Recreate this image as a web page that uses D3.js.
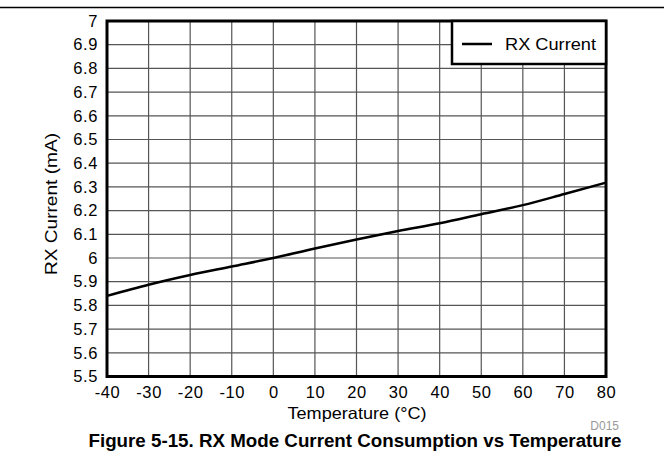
<!DOCTYPE html>
<html lang="en">
<head>
	<title>RX Mode Current Consumption vs Temperature</title>
	<script src="https://d3js.org/d3.v7.min.js" charset="utf-8"></script>
	<style>
		body{ margin:0; background:#fff; }
		text{ font-family: "Liberation Sans", Arial, sans-serif; }
	</style>
</head>
<body>
	<script>
		// Data
		var temps = [-40, -30, -20, -10, 0, 10, 20, 30, 40, 50, 60, 70, 80];
		var rxCurrent = [5.84, 5.887, 5.928, 5.964, 6.0, 6.04, 6.078, 6.114, 6.147, 6.185, 6.223, 6.27, 6.318];
		var xTicks = [-40, -30, -20, -10, 0, 10, 20, 30, 40, 50, 60, 70, 80];
		var yTicks = [5.5, 5.6, 5.7, 5.8, 5.9, 6, 6.1, 6.2, 6.3, 6.4, 6.5, 6.6, 6.7, 6.8, 6.9, 7];
		var seriesName = "RX Current";

		var w = 664, h = 475;
		var padL = 107, padR = 606, padT = 21, padB = 376.5;

		var svg = d3.select("body").append("svg")
			.attr("width", w)
			.attr("height", h);

		// rule at the top of the page
		svg.append("line")
			.attr("x1", 0).attr("x2", w)
			.attr("y1", 7.5).attr("y2", 7.5)
			.attr("stroke", "#000").attr("stroke-width", 1.5);

		var xScale = d3.scaleLinear().domain([-40, 80]).range([padL, padR]);
		var yScale = d3.scaleLinear().domain([5.5, 7]).range([padB, padT]);

		// grid
		svg.append("g").selectAll("line")
			.data(xTicks.slice(1, -1))
			.enter().append("line")
			.attr("x1", function(d){ return xScale(d); })
			.attr("x2", function(d){ return xScale(d); })
			.attr("y1", padT).attr("y2", padB)
			.attr("stroke", "#555").attr("stroke-width", 1.2);

		svg.append("g").selectAll("line")
			.data(yTicks.slice(1, -1))
			.enter().append("line")
			.attr("y1", function(d){ return yScale(d); })
			.attr("y2", function(d){ return yScale(d); })
			.attr("x1", padL).attr("x2", padR)
			.attr("stroke", "#555").attr("stroke-width", 1.2);

		// axes (labels only), plain hyphen for negatives like the original
		var xAxis = d3.axisBottom(xScale).tickValues(xTicks).tickSize(0).tickPadding(10)
			.tickFormat(function(d){ return String(d); });
		var gx = svg.append("g")
			.attr("transform", "translate(0," + padB + ")")
			.call(xAxis);
		gx.select(".domain").remove();
		gx.selectAll("text").attr("font-size", 16.5).attr("fill", "#000")
			.attr("letter-spacing", 0.6)
			.style("font-family", "'Liberation Sans', Arial, sans-serif");

		var yAxis = d3.axisLeft(yScale).tickValues(yTicks).tickSize(0).tickPadding(9)
			.tickFormat(function(d){ return String(d); });
		var gy = svg.append("g")
			.attr("transform", "translate(" + padL + ",0)")
			.call(yAxis);
		gy.select(".domain").remove();
		gy.selectAll("text").attr("font-size", 16.5).attr("fill", "#000")
			.attr("letter-spacing", 0.6)
			.style("font-family", "'Liberation Sans', Arial, sans-serif");

		// the curve
		var line = d3.line()
			.x(function(d, i){ return xScale(temps[i]); })
			.y(function(d){ return yScale(d); })
			.curve(d3.curveMonotoneX);

		svg.append("path")
			.datum(rxCurrent)
			.attr("d", line)
			.attr("fill", "none")
			.attr("stroke", "#000")
			.attr("stroke-width", 2.5);

		// plot frame
		svg.append("rect")
			.attr("x", padL).attr("y", padT)
			.attr("width", padR - padL).attr("height", padB - padT)
			.attr("fill", "none")
			.attr("stroke", "#000").attr("stroke-width", 3);

		// legend
		var lg = svg.append("g");
		lg.append("rect")
			.attr("x", 452).attr("y", padT)
			.attr("width", padR - 452).attr("height", 43)
			.attr("fill", "#fff")
			.attr("stroke", "#000").attr("stroke-width", 2.5);
		lg.append("line")
			.attr("x1", 462).attr("x2", 492)
			.attr("y1", 44).attr("y2", 44)
			.attr("stroke", "#000").attr("stroke-width", 2.5);
		lg.append("text")
			.attr("x", 505).attr("y", 50)
			.attr("font-size", 16.5)
			.attr("textLength", 91)
			.attr("lengthAdjust", "spacingAndGlyphs")
			.text(seriesName);

		// axis titles
		svg.append("text")
			.attr("text-anchor", "middle")
			.attr("transform", "translate(57,204) rotate(-90)")
			.attr("font-size", 16.5)
			.attr("textLength", 142)
			.attr("lengthAdjust", "spacingAndGlyphs")
			.text("RX Current (mA)");

		svg.append("text")
			.attr("text-anchor", "middle")
			.attr("x", 357).attr("y", 419)
			.attr("font-size", 16.5)
			.attr("textLength", 139)
			.attr("lengthAdjust", "spacingAndGlyphs")
			.text("Temperature (\u00B0C)");

		svg.append("text")
			.attr("text-anchor", "end")
			.attr("x", 619).attr("y", 430)
			.attr("font-size", 12)
			.attr("fill", "#999")
			.text("D015");

		svg.append("text")
			.attr("text-anchor", "middle")
			.attr("x", 355).attr("y", 447)
			.attr("font-size", 17.5)
			.attr("font-weight", "bold")
			.attr("textLength", 533)
			.attr("lengthAdjust", "spacingAndGlyphs")
			.text("Figure 5-15. RX Mode Current Consumption vs Temperature");
	</script>
</body>
</html>
